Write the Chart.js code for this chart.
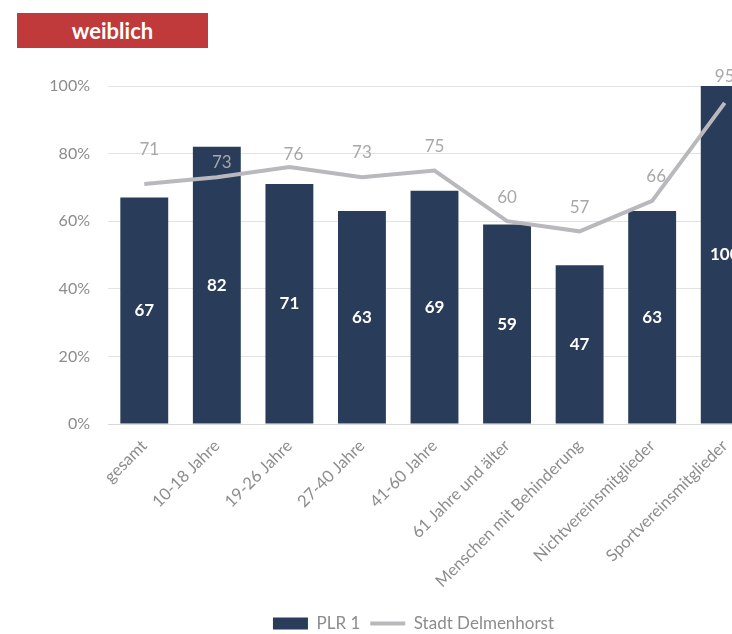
<!DOCTYPE html>
<html>
<head>
<meta charset="utf-8">
<script src="https://cdn.jsdelivr.net/npm/chart.js@4/dist/chart.umd.min.js"></script>
<style>
  html, body { margin: 0; padding: 0; background: #fff; overflow: hidden; }
  #wrap { position: relative; width: 732px; height: 634px; overflow: hidden; }
  #box { position: absolute; left: 0; top: 0; width: 828px; height: 642px; }
  #title {
    position: absolute; left: 17px; top: 13px; width: 191px; height: 35px;
    background: #c0393b; color: #fff; font: bold 22px Lato, sans-serif;
    line-height: 36px; text-align: center; z-index: 2;
  }
</style>
</head>
<body>
<div id="wrap">
  <div id="title">weiblich</div>
  <div id="box"><canvas id="chart" width="828" height="642"></canvas></div>
</div>
<script>
let labels = ['gesamt', '10-18 Jahre', '19-26 Jahre', '27-40 Jahre', '41-60 Jahre',
  '61 Jahre und älter', 'Menschen mit Behinderung', 'Nichtvereinsmitglieder', 'Sportvereinsmitglieder'];
let plrValues = [67, 82, 71, 63, 69, 59, 47, 63, 100];
let stadtValues = [71, 73, 76, 73, 75, 60, 57, 66, 95];
let yTicks = [0, 20, 40, 60, 80, 100];

// label offsets for the line values (px): lift above the point, nudge to the right
let lineLabelLift = [35, 15, 13, 25, 24, 24, 24, 24, 26];
let lineLabelNudge = [5, 5, 4, 0, 0, 0, 0, 4, 0];

let barColor = '#293c59';
let lineColor = '#b9b9bd';
let textGray = '#8c8c8c';
let font = 'Lato, sans-serif';

//Value labels: white in the middle of bars, gray above the line points
const valueLabels = {
  id: 'valueLabels',
  afterUpdate(chart) {
    // legend sits a bit right of the canvas middle
    chart.legend.left += 23;
    chart.legend.right += 23;
  },
  afterDatasetsDraw(chart) {
    let ctx = chart.ctx;
    ctx.save();
    ctx.textAlign = 'center';
    ctx.textBaseline = 'middle';

    let bars = chart.getDatasetMeta(0);
    ctx.font = 'bold 17px ' + font;
    ctx.fillStyle = '#ffffff';
    bars.data.forEach((el, i) => {
      ctx.fillText(String(plrValues[i]), el.x, (el.y + el.base) / 2);
    });

    let line = chart.getDatasetMeta(1);
    ctx.font = '17px ' + font;
    ctx.fillStyle = '#a8a8a8';
    line.data.forEach((el, i) => {
      ctx.fillText(String(stadtValues[i]), el.x + lineLabelNudge[i], el.y - lineLabelLift[i]);
    });
    ctx.restore();
  }
};

let ctx = document.getElementById('chart').getContext('2d');
let chart = new Chart(ctx, {
  data: {
    labels: labels,
    datasets: [{
      type: 'bar',
      label: 'PLR 1',
      data: plrValues,
      backgroundColor: barColor,
      borderWidth: 0,
      pointStyle: 'rect',
      categoryPercentage: 1,
      barPercentage: 0.66,
      order: 1
    }, {
      type: 'line',
      label: 'Stadt Delmenhorst',
      data: stadtValues,
      borderColor: lineColor,
      backgroundColor: lineColor,
      borderWidth: 4,
      pointRadius: 0,
      pointStyle: 'line',
      tension: 0,
      order: 0
    }]
  },
  options: {
    responsive: false,
    animation: false,
    layout: { padding: { top: 86, left: 20, right: 67, bottom: 0 } },
    scales: {
      x: {
        grid: { display: false },
        border: { display: true, color: '#d9d9d9' },
        ticks: {
          autoSkip: false, minRotation: 45, maxRotation: 45,
          color: textGray, font: { family: font, size: 16.5 }, padding: 4
        },
        afterFit: scale => { scale.height = 181; }
      },
      y: {
        min: 0, max: 100,
        border: { display: false },
        grid: { color: '#e3e3e3', drawTicks: false, lineWidth: 1 },
        afterBuildTicks: scale => { scale.ticks = yTicks.map(v => ({ value: v })); },
        ticks: {
          color: textGray, font: { family: font, size: 16 }, padding: 18,
          callback: v => v + '%'
        },
        afterFit: scale => { scale.width = 88; }
      }
    },
    plugins: {
      legend: {
        position: 'bottom',
        labels: {
          usePointStyle: true,
          pointStyleWidth: 35,
          boxWidth: 35,
          boxHeight: 12,
          padding: 10,
          color: textGray,
          font: { family: font, size: 17 },
          sort: (a, b) => a.datasetIndex - b.datasetIndex
        }
      },
      tooltip: { enabled: false }
    }
  },
  plugins: [valueLabels]
});
</script>
</body>
</html>
